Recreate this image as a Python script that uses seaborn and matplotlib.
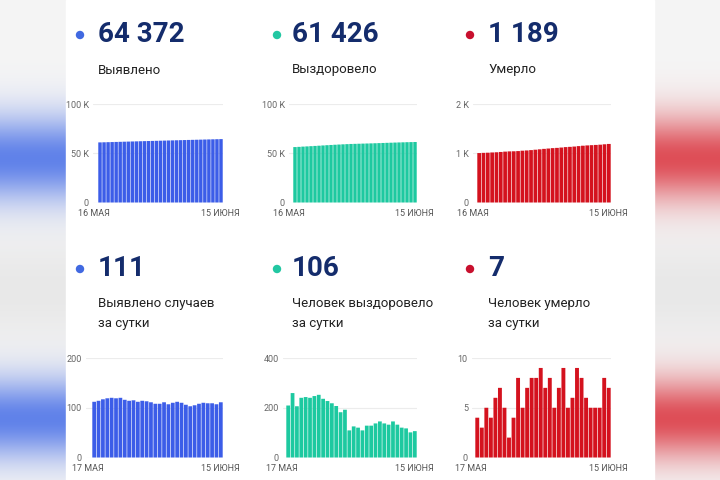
import numpy as np
import matplotlib.pyplot as plt
from matplotlib.patches import Rectangle, Ellipse
import seaborn as sns

sns.set_theme(style="white")
plt.rcParams['font.family'] = ['Roboto', 'DejaVu Sans']

# ---- data ----
dates_total = ["16 МАЯ", "15 ИЮНЯ"]
dates_daily = ["17 МАЯ", "15 ИЮНЯ"]

cases_total = [61022, 61134, 61248, 61365, 61484, 61604, 61723, 61843, 61959, 62073,
               62188, 62300, 62414, 62527, 62638, 62746, 62854, 62965, 63072, 63182,
               63294, 63404, 63510, 63613, 63718, 63826, 63936, 64045, 64154, 64261, 64372]
recovered_total = [56277, 56486, 56745, 56951, 57191, 57434, 57674, 57921, 58173, 58409,
                   58636, 58854, 59061, 59243, 59435, 59544, 59669, 59789, 59898, 60026,
                   60154, 60291, 60436, 60573, 60705, 60850, 60982, 61102, 61219, 61320, 61426]
deaths_total = [1004, 1008, 1011, 1016, 1020, 1026, 1033, 1038, 1040, 1044,
                1052, 1057, 1064, 1072, 1080, 1089, 1096, 1104, 1109, 1116,
                1125, 1130, 1136, 1145, 1153, 1159, 1164, 1169, 1174, 1182, 1189]

cases_daily = [112, 114, 117, 119, 120, 119, 120, 116, 114, 115,
               112, 114, 113, 111, 108, 108, 111, 107, 110, 112,
               110, 106, 103, 105, 108, 110, 109, 109, 107, 111]
recovered_daily = [209, 259, 206, 240, 243, 240, 247, 252, 236, 227,
                   218, 207, 182, 192, 109, 125, 120, 109, 128, 128,
                   137, 145, 137, 132, 145, 132, 120, 117, 101, 106]
deaths_daily = [4, 3, 5, 4, 6, 7, 5, 2, 4, 8,
                5, 7, 8, 8, 9, 7, 8, 5, 7, 9,
                5, 6, 9, 8, 6, 5, 5, 5, 8, 7]

headline_values = ["64 372", "61 426", "1 189", "111", "106", "7"]
headline_labels = ["Выявлено", "Выздоровело", "Умерло",
                   "Выявлено случаев\nза сутки", "Человек выздоровело\nза сутки",
                   "Человек умерло\nза сутки"]

yticks_total = [[0, 50000, 100000], [0, 50000, 100000], [0, 1000, 2000]]
yticklabels_total = [["0", "50 K", "100 K"], ["0", "50 K", "100 K"], ["0", "1 K", "2 K"]]
yticks_daily = [[0, 100, 200], [0, 200, 400], [0, 5, 10]]
yticklabels_daily = [["0", "100", "200"], ["0", "200", "400"], ["0", "5", "10"]]

bar_colors = ["#3c5de8", "#1dc9a0", "#d4121e"]
dot_colors = ["#4169e1", "#22c7a2", "#c8102e"]
navy = "#142c6c"

W, H = 720, 480
fig = plt.figure(figsize=(7.2, 4.8), dpi=100)

# ---- blurred flag background + white card ----
bg = fig.add_axes([0, 0, 1, 1], zorder=-10)
yy, xx = np.mgrid[0:H, 0:W]
band = np.exp(-((yy - 158) / 42.0) ** 2) + np.exp(-((yy - 418) / 40.0) ** 2)
band = np.clip(band, 0, 1)
shade = 0.96 - 0.05 * np.exp(-((yy - 290) / 50.0) ** 2)
blue = np.array([0.30, 0.45, 0.91])
red = np.array([0.86, 0.22, 0.26])
img = np.zeros((H, W, 3))
left = xx < 360
for c in range(3):
    col = np.where(left, blue[c], red[c])
    img[..., c] = shade * (1 - band * 0.88) + col * band * 0.88
bg.imshow(img, extent=(0, W, H, 0), aspect='auto')
bg.add_patch(Rectangle((66, 0), 588, H, color="white"))
bg.set_xlim(0, W)
bg.set_ylim(H, 0)
bg.axis("off")


def fx(x):
    return x / W


def fy(y):
    return 1 - y / H


def panel(values, color, x0, x1, bar_start, y_top, y_bot, yticks, yticklabels, dates):
    n = len(values)
    ax = fig.add_axes([fx(x0), fy(y_bot), (x1 - x0) / W, (y_bot - y_top) / H])
    sns.barplot(x=list(range(n)), y=values, color=color, saturation=1,
                width=0.86, linewidth=0, ax=ax)
    for p in ax.patches:
        p.set_snap(False)
    u = (x1 - bar_start) / n
    ax.set_xlim(-0.5 - (bar_start - x0) / u, n - 0.5)
    ax.set_ylim(0, yticks[-1])
    ax.set_yticks(yticks)
    ax.set_yticklabels(yticklabels)
    ax.set_xticks([])
    ax.set_xlabel("")
    ax.set_ylabel("")
    ax.yaxis.grid(True, color="#ececec", lw=0.8)
    ax.set_axisbelow(True)
    ax.tick_params(axis="y", length=0, pad=3, labelsize=6.5, labelcolor="#666666")
    sns.despine(ax=ax, left=True, bottom=True)
    ax.set_facecolor("none")
    ylab = y_bot + 11
    fig.text(fx(bar_start - 4), fy(ylab), dates[0], ha="center", va="center",
             fontsize=6.5, color="#555555")
    fig.text(fx(x1 - 3), fy(ylab), dates[1], ha="center", va="center",
             fontsize=6.5, color="#555555")
    return ax


total_series = [cases_total, recovered_total, deaths_total]
daily_series = [cases_daily, recovered_daily, deaths_daily]

top_axes_x = [(93, 223, 98), (289, 417, 293), (473, 611, 477)]
bot_axes_x = [(86, 223, 92), (283, 417, 286), (472, 611, 475)]

for i in range(3):
    x0, x1, bs = top_axes_x[i]
    panel(total_series[i], bar_colors[i], x0, x1, bs, 104, 202.5,
          yticks_total[i], yticklabels_total[i], dates_total)
    x0, x1, bs = bot_axes_x[i]
    panel(daily_series[i], bar_colors[i], x0, x1, bs, 358, 457.5,
          yticks_daily[i], yticklabels_daily[i], dates_daily)

# ---- headlines ----
dot_x = [80, 277, 470]
text_x = [98, 292, 488]
for row, (y_num, y_lab) in enumerate([(35, 70), (269, 313)]):
    for i in range(3):
        k = row * 3 + i
        fig.add_artist(Ellipse((fx(dot_x[i]), fy(y_num)), 7 / W, 7 / H,
                               transform=fig.transFigure, color=dot_colors[i]))
        fig.text(fx(text_x[i]), fy(y_num), headline_values[k], ha="left", va="center",
                 fontsize=20, fontweight="bold", color=navy)
        fig.text(fx(text_x[i]), fy(y_lab), headline_labels[k], ha="left", va="center",
                 fontsize=9.5, color="#222222", linespacing=1.7)

fig.savefig("out.png", dpi=100)
